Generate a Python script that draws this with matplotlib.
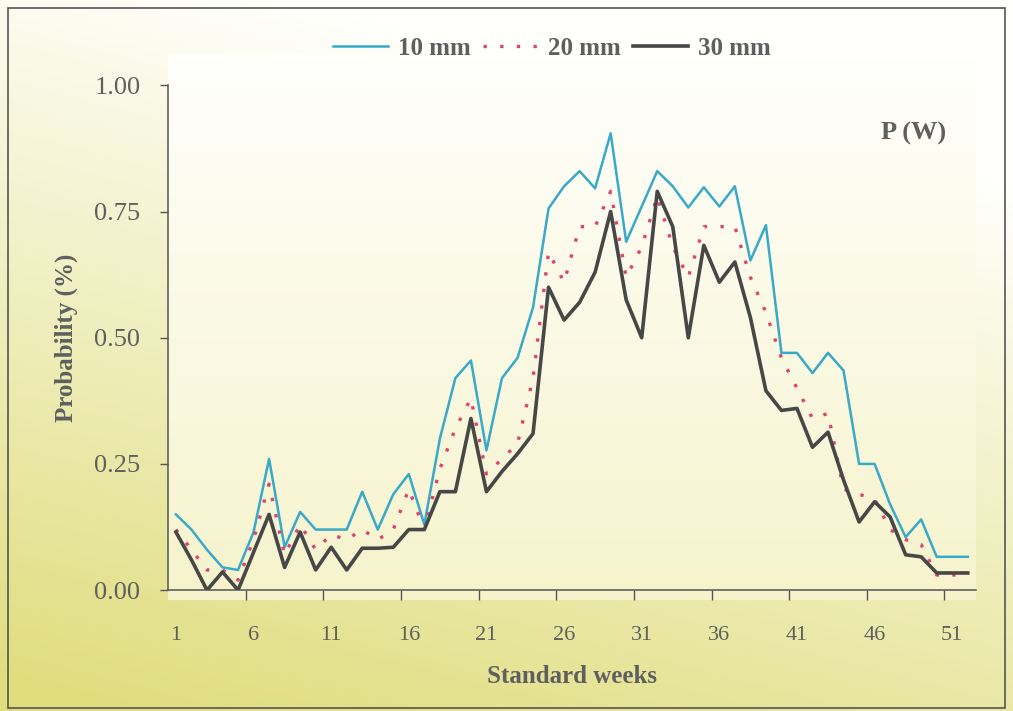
import numpy as np
import matplotlib
matplotlib.use("Agg")
import matplotlib.pyplot as plt
from matplotlib.patches import Rectangle

# standard weeks 1..52
weeks = list(range(1, 53))

# probability of a wet week
p_10mm = [0.15, 0.12, 0.08, 0.045, 0.04, 0.115, 0.26, 0.085, 0.155, 0.12,
          0.12, 0.12, 0.195, 0.12, 0.19, 0.23, 0.13, 0.30, 0.42, 0.455,
          0.277, 0.42, 0.46, 0.56, 0.756, 0.80, 0.83, 0.796, 0.905, 0.69,
          0.76, 0.83, 0.80, 0.758, 0.798, 0.76, 0.80, 0.653, 0.723, 0.47,
          0.47, 0.43, 0.47, 0.435, 0.25, 0.25, 0.17, 0.105, 0.14, 0.066,
          0.066, 0.066]
p_20mm = [0.12, 0.08, 0.04, 0.04, 0.02, 0.10, 0.21, 0.07, 0.13, 0.08,
          0.11, 0.10, 0.12, 0.10, 0.12, 0.20, 0.12, 0.24, 0.32, 0.38,
          0.23, 0.26, 0.29, 0.42, 0.67, 0.61, 0.72, 0.72, 0.79, 0.62,
          0.68, 0.78, 0.68, 0.62, 0.72, 0.72, 0.72, 0.62, 0.55, 0.46,
          0.40, 0.34, 0.35, 0.20, 0.19, 0.18, 0.12, 0.10, 0.09, 0.03,
          0.03, 0.03]
p_30mm = [0.115, 0.06, 0.0, 0.036, 0.0, 0.075, 0.15, 0.045, 0.115, 0.04,
          0.085, 0.04, 0.083, 0.083, 0.085, 0.12, 0.12, 0.195, 0.195, 0.34,
          0.195, 0.235, 0.27, 0.31, 0.60, 0.535, 0.57, 0.63, 0.75, 0.575,
          0.50, 0.79, 0.72, 0.50, 0.683, 0.61, 0.65, 0.54, 0.395, 0.356,
          0.36, 0.283, 0.313, 0.218, 0.135, 0.175, 0.145, 0.07, 0.066, 0.034,
          0.034, 0.034]

series_labels = ["10 mm", "20 mm", "30 mm"]
xtick_weeks = [1, 6, 11, 16, 21, 26, 31, 36, 41, 46, 51]
yticks = [0.0, 0.25, 0.50, 0.75, 1.00]

SERIF = ["Liberation Serif", "DejaVu Serif"]
GREY = "#5f5f5f"

fig = plt.figure(figsize=(10.13, 7.11), dpi=100)

# scanned-paper background: white at the top, yellow toward the bottom-left
bg = fig.add_axes([0, 0, 1, 1], zorder=-10)
u, v = np.meshgrid(np.linspace(0, 1, 200), np.linspace(0, 1, 200))
a = np.clip(0.95 * v + 0.35 * (1 - u) - 0.25, 0, 1)[..., None]
white = np.array([1.0, 1.0, 0.99])
yellow = np.array([0.88, 0.87, 0.50])
bg.imshow(white * (1 - a) + yellow * a, aspect="auto", extent=(0, 1, 0, 1),
          origin="upper")
bg.set_axis_off()
fig.patches.append(Rectangle((8 / 1013, 3 / 711), 997 / 1013, 700 / 711,
                             transform=fig.transFigure, fill=False,
                             edgecolor="#555555", lw=1.2))

ax = fig.add_axes([0.166, 0.170, 0.797, 0.710])
ax.set_facecolor("none")
# pale plot area, fading into the page at the top
pv = np.linspace(0, 1, 100)[:, None, None]
top_c = np.array([1.0, 1.0, 0.99])
bot_c = np.array([0.965, 0.955, 0.80])
ax.imshow(top_c * (1 - pv) + bot_c * pv, aspect="auto",
          extent=(0, 1, -0.02, 1.06), transform=ax.transAxes, zorder=0,
          origin="upper", clip_on=False)

ax.plot(weeks, p_10mm, color="#39a9c9", lw=1.8, label=series_labels[0], zorder=3)
ax.plot(weeks, p_20mm, color="#d9456e", lw=2.4, linestyle=(0, (1, 4)),
        label=series_labels[1], zorder=4)
ax.plot(weeks, p_30mm, color="#474747", lw=2.6, label=series_labels[2], zorder=5)

ax.set_xlim(0.5, 52.5)
ax.set_ylim(0, 1.0)
ax.set_xticks(xtick_weeks)
ax.set_xticklabels([str(w) for w in xtick_weeks], family=SERIF, fontsize=16,
                   color=GREY)
ax.set_xticks([w - 0.5 for w in xtick_weeks[1:]], minor=True)
ax.tick_params(axis="x", which="major", length=0, pad=26)
ax.tick_params(axis="x", which="minor", length=7, width=1, color="#555555")
ax.set_yticks(yticks)
ax.set_yticklabels(["%.2f" % t for t in yticks], family=SERIF, fontsize=19,
                   color=GREY)
ax.tick_params(axis="y", length=6, width=1, color="#555555", pad=14)

for side in ["top", "right"]:
    ax.spines[side].set_visible(False)
for side in ["left", "bottom"]:
    ax.spines[side].set_color("#555555")
    ax.spines[side].set_linewidth(1.1)

ax.set_xlabel("Standard weeks", family=SERIF, fontsize=18, fontweight="bold",
              color=GREY, labelpad=14)
ax.set_ylabel("Probability (%)", family=SERIF, fontsize=18, fontweight="bold",
              color=GREY, labelpad=12)
ax.text(0.963, 0.905, "P (W)", transform=ax.transAxes, ha="right", va="center",
        family=SERIF, fontsize=19, fontweight="bold", color=GREY)

leg = fig.legend(loc="upper center", bbox_to_anchor=(0.545, 0.98), ncol=3,
                 frameon=False, handlelength=2.2, handletextpad=0.4,
                 columnspacing=0.5,
                 prop={"family": SERIF, "size": 18, "weight": "bold"})
for t in leg.get_texts():
    t.set_color(GREY)

fig.savefig("out.png", dpi=100)
